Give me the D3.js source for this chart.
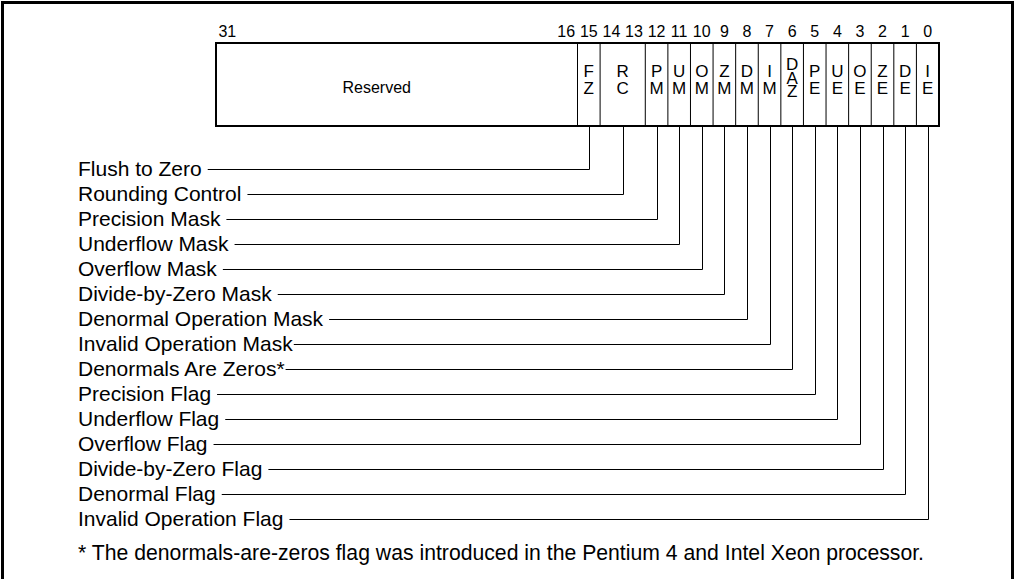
<!DOCTYPE html>
<html>
<head>
<meta charset="utf-8">
<script src="https://cdn.jsdelivr.net/npm/d3@7"></script>
<style>
  body { margin: 0; background: #fff; }
  svg { display: block; }
  text { font-family: 'Liberation Sans', Arial, sans-serif; fill: #000; }
</style>
</head>
<body>
<svg id="chart" width="1015" height="579"></svg>
<script>
// register fields, high bit first
const fieldNames = ['Reserved', 'FZ', 'RC', 'PM', 'UM', 'OM', 'ZM', 'DM', 'IM', 'DAZ', 'PE', 'UE', 'OE', 'ZE', 'DE', 'IE'];
const fieldHi = [31, 15, 14, 12, 11, 10, 9, 8, 7, 6, 5, 4, 3, 2, 1, 0];
const fieldLo = [16, 15, 13, 12, 11, 10, 9, 8, 7, 6, 5, 4, 3, 2, 1, 0];
const bitLabels = [31, 16, 15, 14, 13, 12, 11, 10, 9, 8, 7, 6, 5, 4, 3, 2, 1, 0];

// one leader per field, top to bottom
const leaderLabels = [
  'Flush to Zero', 'Rounding Control', 'Precision Mask', 'Underflow Mask',
  'Overflow Mask', 'Divide-by-Zero Mask', 'Denormal Operation Mask',
  'Invalid Operation Mask', 'Denormals Are Zeros*', 'Precision Flag',
  'Underflow Flag', 'Overflow Flag', 'Divide-by-Zero Flag', 'Denormal Flag',
  'Invalid Operation Flag'
];
const leaderFields = ['FZ', 'RC', 'PM', 'UM', 'OM', 'ZM', 'DM', 'IM', 'DAZ', 'PE', 'UE', 'OE', 'ZE', 'DE', 'IE'];
const tightLabels = ['Invalid Operation Mask', 'Denormals Are Zeros*'];
const footnote = '* The denormals-are-zeros flag was introduced in the Pentium 4 and Intel Xeon processor.';

const svg = d3.select('#chart');
const boxTop = 43;
const boxBottom = 126;

const x = d3.scaleLinear().domain([32, 0]).range([216, 939]);
const row = d3.scaleLinear().domain([0, leaderLabels.length - 1]).range([169, 519]);

const fields = fieldNames.map((name, i) => ({
  name,
  x0: x(fieldHi[i] + 1),
  x1: x(fieldLo[i]),
  cx: (x(fieldHi[i] + 1) + x(fieldLo[i])) / 2,
}));
const byName = new Map(fields.map(f => [f.name, f]));

// outer frame (bottom runs off the picture)
svg.append('rect')
  .attr('x', 2.5).attr('y', 2.5)
  .attr('width', 1010).attr('height', 600)
  .attr('fill', 'none')
  .attr('stroke', '#000')
  .attr('stroke-width', 3);

// bit numbers
svg.selectAll('.bitnum')
  .data(bitLabels)
  .enter()
  .append('text')
  .attr('class', 'bitnum')
  .attr('x', d => x(d + 0.5))
  .attr('y', 37)
  .attr('text-anchor', 'middle')
  .attr('font-size', 16)
  .text(d => d);

// field dividers
svg.selectAll('.divider')
  .data(fields.slice(1))
  .enter()
  .append('line')
  .attr('class', 'divider')
  .attr('x1', d => d.x0).attr('x2', d => d.x0)
  .attr('y1', boxTop).attr('y2', boxBottom)
  .attr('stroke', '#000')
  .attr('stroke-width', 1);

svg.append('rect')
  .attr('x', x(32)).attr('y', boxTop)
  .attr('width', x(0) - x(32)).attr('height', boxBottom - boxTop)
  .attr('fill', 'none')
  .attr('stroke', '#000')
  .attr('stroke-width', 2);

// field names, stacked letter by letter
const fieldText = svg.selectAll('.fieldname')
  .data(fields)
  .enter()
  .append('text')
  .attr('class', 'fieldname')
  .attr('text-anchor', 'middle')
  .attr('font-size', 17);

fieldText.filter(d => d.name === 'Reserved')
  .attr('x', d => d.cx - 20)
  .attr('font-size', 16)
  .attr('y', 93)
  .text(d => d.name);

fieldText.filter(d => d.name !== 'Reserved')
  .each(function stack(d) {
    const letters = d.name.split('');
    const step = letters.length > 2 ? 13.5 : 17;
    const mid = letters.length > 2 ? 77.5 : 79.5;
    const first = mid - step * (letters.length - 1) / 2;
    d3.select(this).selectAll('tspan')
      .data(letters)
      .enter()
      .append('tspan')
      .attr('x', d.cx)
      .attr('y', (l, i) => first + i * step + 6)
      .text(l => l);
  });

// leader labels and lines
const leaders = svg.selectAll('.leader')
  .data(leaderLabels.map((label, i) => ({ label, field: byName.get(leaderFields[i]), i })))
  .enter()
  .append('g')
  .attr('class', 'leader');

leaders.append('text')
  .attr('x', 78)
  .attr('y', d => row(d.i) + 7)
  .attr('font-size', 21)
  .text(d => d.label);

leaders.append('path')
  .attr('fill', 'none')
  .attr('stroke', '#000')
  .attr('stroke-width', 1)
  .attr('d', function path(d) {
    const w = this.parentNode.querySelector('text').getComputedTextLength();
    const gap = tightLabels.includes(d.label) ? 1 : 6;
    const y = Math.round(row(d.i)) + 0.5;
    const cx = Math.round(d.field.cx) + 0.5;
    return `M ${78 + w + gap} ${y} H ${cx} V ${boxBottom}`;
  });

svg.append('text')
  .attr('x', 78)
  .attr('y', 560)
  .attr('font-size', 21.2)
  .attr('textLength', 846)
  .text(footnote);
</script>
</body>
</html>
